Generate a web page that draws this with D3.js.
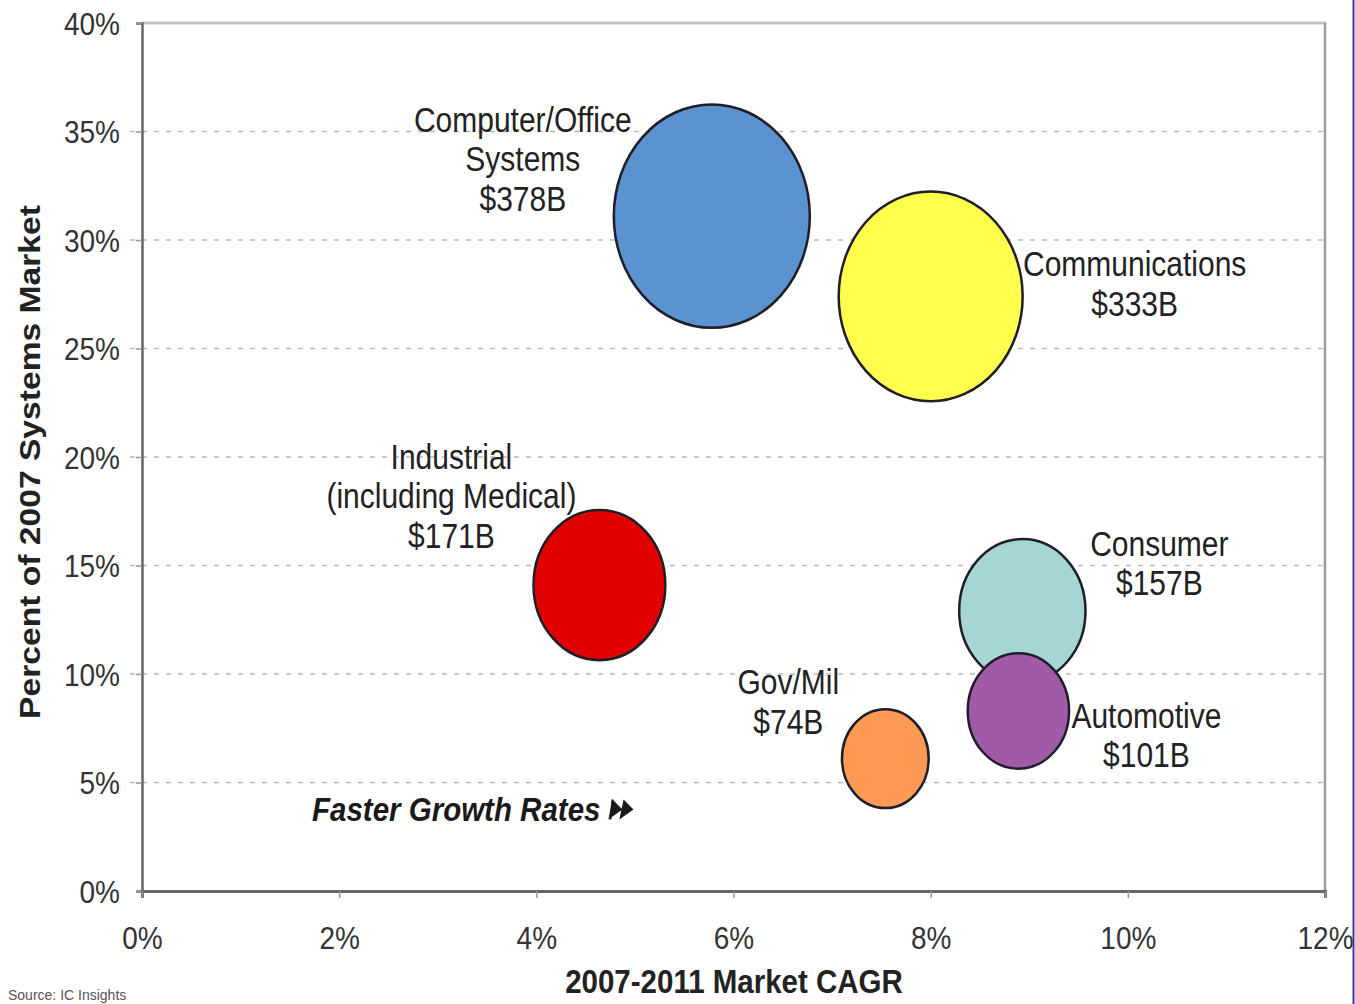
<!DOCTYPE html>
<html>
<head>
<meta charset="utf-8">
<script src="https://cdn.jsdelivr.net/npm/d3@7"></script>
<style>
  html, body { margin: 0; padding: 0; background: #fff; }
  svg { display: block; font-family: "Liberation Sans", Arial, sans-serif; }
</style>
</head>
<body>
<svg id="chart" width="1355" height="1004"></svg>
<script>
// ---- data ----
const categories = ["Computer/Office Systems", "Communications", "Industrial (including Medical)", "Consumer", "Automotive", "Gov/Mil"];
const labelLines = [["Computer/Office", "Systems", "$378B"], ["Communications", "$333B"], ["Industrial", "(including Medical)", "$171B"], ["Consumer", "$157B"], ["Automotive", "$101B"], ["Gov/Mil", "$74B"]];
const cagr = [5.78, 8.0, 4.64, 8.93, 8.89, 7.54];          // x, %
const share = [31.1, 27.4, 14.1, 12.9, 8.3, 6.1];           // y, %
const marketSize = [378, 333, 171, 157, 101, 74];           // $B
const colors = ["#5b93d1", "#ffff4d", "#e00000", "#a5d6d3", "#a05aa8", "#ff9a55"];
const xTicks = [0, 2, 4, 6, 8, 10, 12];
const yTicks = [0, 5, 10, 15, 20, 25, 30, 35, 40];
const xTitle = "2007-2011 Market CAGR";
const yTitle = "Percent of 2007 Systems Market";
const note = "Faster Growth Rates";
const source = "Source: IC Insights";

// ---- layout (styling, not data) ----
const SY = 1.14; // vertical stretch of the original image
const labelOffsets = [[-189, -96], [204, -32], [-148, -128], [137, -67], [128, 5], [-97, -76]];
const lineH = 39.5;
const drawOrder = [0, 1, 2, 3, 4, 5];

const svg = d3.select("#chart");
const L = 142, R = 1325, T = 23, B = 891;

const x = d3.scaleLinear().domain([0, 12]).range([L, R]);
const y = d3.scaleLinear().domain([0, 40]).range([B, T]);
const r = d3.scaleSqrt().domain([0, 378]).range([0, 98]);

function stretchText(sel, px, py) {
  return sel.attr("transform", `translate(${px},${py}) scale(1,${SY})`);
}

// gridlines
svg.append("g").selectAll("line").data(yTicks.filter(d => d > 0 && d < 40)).join("line")
  .attr("x1", L - 12).attr("x2", R)
  .attr("y1", d => y(d)).attr("y2", d => y(d))
  .attr("stroke", "#b8b8b8").attr("stroke-width", 1.5).attr("stroke-dasharray", "5,7");

// frame: top & right light grey
svg.append("line").attr("x1", L).attr("x2", R + 1).attr("y1", T).attr("y2", T)
  .attr("stroke", "#c2c2c2").attr("stroke-width", 3);
svg.append("line").attr("x1", R).attr("x2", R).attr("y1", T).attr("y2", B)
  .attr("stroke", "#9a9a9a").attr("stroke-width", 2.5);

// axes
const yAxis = svg.append("g").attr("transform", `translate(${L},0)`)
  .call(d3.axisLeft(y).tickValues(yTicks).tickFormat(d => d + "%").tickSize(6).tickPadding(0));
yAxis.select(".domain").attr("stroke", "#666").attr("stroke-width", 2.5);
yAxis.selectAll(".tick line").attr("stroke", "#999").attr("stroke-width", 1.5);
yAxis.selectAll(".tick text").each(function() {
  d3.select(this).attr("x", null).attr("dy", null)
    .attr("font-size", 28).attr("fill", "#333").attr("text-anchor", "end")
    .attr("dominant-baseline", "central")
    .attr("transform", `translate(-22,0) scale(1,${SY})`);
});

const xAxis = svg.append("g").attr("transform", `translate(0,${B})`)
  .call(d3.axisBottom(x).tickValues(xTicks).tickFormat(d => d + "%").tickSize(7).tickPadding(0));
xAxis.select(".domain").attr("stroke", "#666").attr("stroke-width", 3);
xAxis.selectAll(".tick line").attr("stroke", "#999").attr("stroke-width", 1.5);
xAxis.selectAll(".tick text").each(function() {
  d3.select(this).attr("y", null).attr("dy", null)
    .attr("font-size", 28).attr("fill", "#333").attr("text-anchor", "middle")
    .attr("dominant-baseline", "central")
    .attr("transform", `translate(0,47) scale(1,${SY})`);
});

// bubbles
const bubbles = svg.append("g");
drawOrder.forEach(i => {
  bubbles.append("ellipse")
    .attr("cx", x(cagr[i])).attr("cy", y(share[i]))
    .attr("rx", r(marketSize[i])).attr("ry", r(marketSize[i]) * SY)
    .attr("fill", colors[i]).attr("stroke", "#1e1e28").attr("stroke-width", 2.5);
});

// bubble labels
const labels = svg.append("g");
labelLines.forEach((lines, i) => {
  const cx = x(cagr[i]) + labelOffsets[i][0];
  const cy = y(share[i]) + labelOffsets[i][1];
  lines.forEach((t, k) => {
    stretchText(labels.append("text"), cx, cy + k * lineH)
      .attr("text-anchor", "middle").attr("dominant-baseline", "central")
      .attr("font-size", 30).attr("fill", "#222").text(t);
  });
});

// annotation
const noteG = svg.append("g");
const ay = y(5) + 27;
const noteText = stretchText(noteG.append("text"), 312, ay)
  .attr("dominant-baseline", "central")
  .attr("font-size", 29.5).attr("font-weight", "bold").attr("font-style", "italic")
  .attr("fill", "#1a1a1a").text(note);
const tw = noteText.node().getComputedTextLength();
const ax = 312 + tw + 10;
const tri = (x0) => `M${x0},${ay - 10} L${x0 + 12},${ay} L${x0},${ay + 10} Z`;
noteG.append("path").attr("d", tri(ax) + tri(ax + 11)).attr("fill", "#1a1a1a")
  .attr("transform", `translate(${ay * Math.tan(12 * Math.PI / 180)},0) skewX(-12)`);
noteG.append("line").attr("x1", ax + 2).attr("x2", ax).attr("y1", ay - 10).attr("y2", ay + 10)
  .attr("stroke", "#1a1a1a").attr("stroke-width", 2);

// axis titles
stretchText(svg.append("text"), 734, 981)
  .attr("text-anchor", "middle").attr("dominant-baseline", "central")
  .attr("font-size", 29.5).attr("font-weight", "bold").attr("fill", "#222").text(xTitle);

svg.append("text")
  .attr("transform", `translate(30,462) scale(1,${SY}) rotate(-90)`)
  .attr("text-anchor", "middle").attr("dominant-baseline", "central")
  .attr("font-size", 29.5).attr("font-weight", "bold").attr("fill", "#222").text(yTitle);

// source note (small, bottom-left)
svg.append("text").attr("x", 8).attr("y", 1000)
  .attr("font-size", 14).attr("fill", "#555").text(source);

// right blue border
svg.append("line").attr("x1", 1353.5).attr("x2", 1353.5).attr("y1", 0).attr("y2", 1004)
  .attr("stroke", "#3a3aa8").attr("stroke-width", 2);
</script>
</body>
</html>
